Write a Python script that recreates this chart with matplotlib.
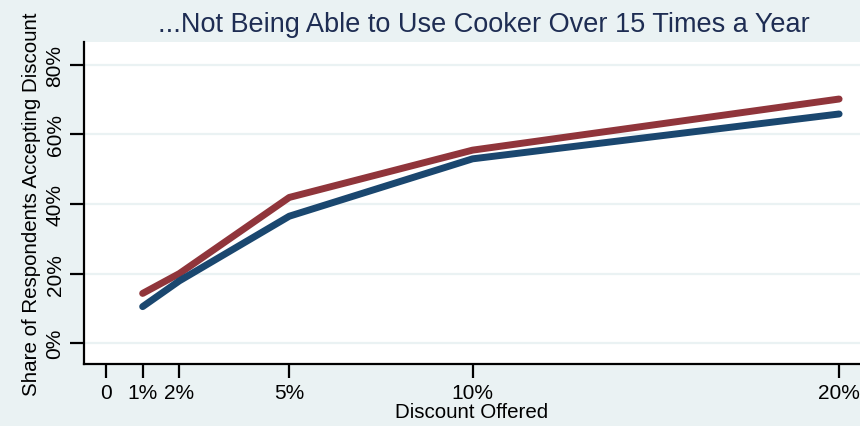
import numpy as np
import matplotlib
matplotlib.use("Agg")
import matplotlib.pyplot as plt
from matplotlib.ticker import FuncFormatter

plt.rcParams['font.family'] = ['Liberation Sans', 'DejaVu Sans']

# data
discount = [1, 2, 5, 10, 20]
share_blue = [10.5, 17.9, 36.5, 53.0, 65.9]
share_red = [14.3, 20.0, 41.9, 55.5, 70.2]
xticks = [0, 1, 2, 5, 10, 20]
xticklabels = ['0', '1%', '2%', '5%', '10%', '20%']
yticks = [0, 20, 40, 60, 80]

bg = '#eaf2f3'
fig = plt.figure(figsize=(8.6, 4.27), dpi=100, facecolor=bg)
ax = fig.add_axes([84 / 860, 62 / 427, 1 - 84 / 860, (365 - 43) / 427])
ax.set_facecolor('white')

for y in yticks:
    ax.axhline(y, color=bg, lw=1.6, zorder=1)

ax.plot(discount, share_blue, color='#1a476f', lw=5, solid_capstyle='round', zorder=3)
ax.plot(discount, share_red, color='#90353b', lw=5, solid_capstyle='round', zorder=2)

ax.set_xlim(-0.6, 20.57)
ax.set_ylim(-6, 86.6)
ax.set_xticks(xticks)
ax.set_xticklabels(xticklabels)
ax.set_yticks(yticks)
ax.yaxis.set_major_formatter(FuncFormatter(lambda v, p: '%d%%' % v))
for lbl in ax.get_yticklabels():
    lbl.set_rotation(90)
    lbl.set_va('center')

ax.tick_params(axis='both', length=10, width=1.6, color='black', labelsize=15, pad=4)
for s in ['top', 'right']:
    ax.spines[s].set_visible(False)
for s in ['left', 'bottom']:
    ax.spines[s].set_linewidth(1.6)
    ax.spines[s].set_color('black')

ax.set_xlabel('Discount Offered', fontsize=14.8, labelpad=0)
ax.set_ylabel('Share of Respondents Accepting Discount', fontsize=14.8, labelpad=3)
ax.set_title('...Not Being Able to Use Cooker Over 15 Times a Year',
             fontsize=19.5, color='#1e2d53', pad=8, x=0.515)

fig.savefig('out.png', dpi=100, facecolor=bg)
